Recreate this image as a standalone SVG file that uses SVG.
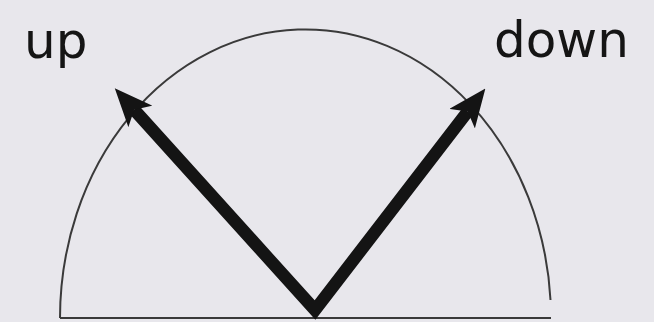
<svg xmlns="http://www.w3.org/2000/svg" width="654" height="322" viewBox="0 0 654 322">
<style>
.label{font-family:"DejaVu Sans","Open Sans",sans-serif;font-size:50px;fill:#151515}
.thin{fill:none;stroke:#3a3a3a;stroke-width:2}
.arrow{fill:none;stroke:#141414;stroke-width:12.5;stroke-linejoin:miter}
</style>
<defs>
<marker id="head" markerUnits="userSpaceOnUse" viewBox="0 0 38 32" markerWidth="38" markerHeight="32" refX="9" refY="16" orient="auto-start-reverse">
<path d="M0,0 L38,16 L0,32 L9,16 Z" fill="#141414"/>
</marker>
</defs>
<rect width="654" height="322" fill="#e8e7ec"/>
<g id="arc">
<path class="thin" d="M60,318 A245.5,289 0 0 1 550.5,300"/>
<line class="thin" x1="60" y1="318" x2="551" y2="318"/>
</g>
<g id="connectors">
<path class="arrow" d="M134.2,109.7 L315,310 L467.7,111.5" marker-start="url(#head)" marker-end="url(#head)"/>
</g>
<g id="label-up"><text class="label" x="24" y="58">up</text></g>
<g id="label-down"><text class="label" x="494" y="57">down</text></g>
</svg>
